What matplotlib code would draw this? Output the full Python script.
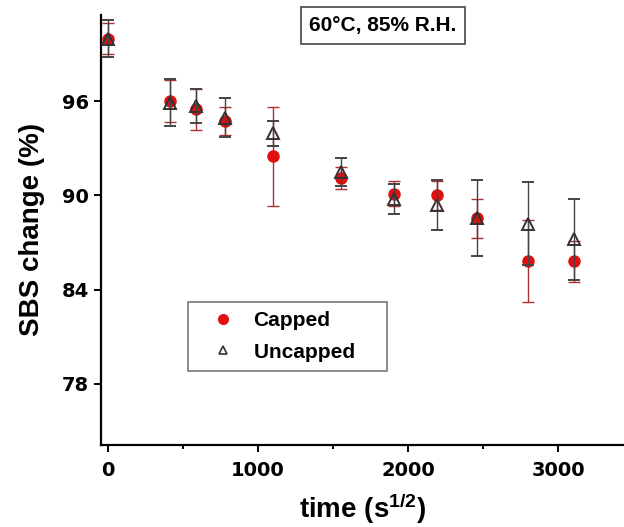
import numpy as np
import matplotlib
matplotlib.use("Agg")
import matplotlib.pyplot as plt
from matplotlib.lines import Line2D

plt.rcParams['font.family'] = ['Liberation Sans', 'DejaVu Sans']
plt.rcParams['font.weight'] = 'bold'
plt.rcParams['mathtext.fontset'] = 'custom'
plt.rcParams['mathtext.rm'] = 'Liberation Sans:bold'
plt.rcParams['mathtext.bf'] = 'Liberation Sans:bold'
plt.rcParams['mathtext.default'] = 'bf'

# time in s^1/2
time_capped = [0, 413, 589, 782, 1100, 1551, 1909, 2195, 2458, 2800, 3105]
sbs_capped = [100.0, 96.0, 95.5, 94.75, 92.5, 91.1, 90.1, 90.0, 88.55, 85.8, 85.8]
err_capped = [1.0, 1.35, 1.3, 0.9, 3.15, 0.7, 0.8, 0.9, 1.25, 2.6, 1.3]

time_uncapped = [0, 413, 589, 782, 1100, 1551, 1909, 2195, 2458, 2800, 3105]
sbs_uncapped = [100.0, 95.9, 95.7, 94.95, 93.95, 91.5, 89.75, 89.4, 88.55, 88.2, 87.2]
err_uncapped = [1.2, 1.5, 1.1, 1.25, 0.8, 0.9, 0.95, 1.6, 2.4, 2.65, 2.6]

fig = plt.figure(figsize=(6.24, 5.27), dpi=100)
ax = fig.add_axes([0.162, 0.156, 0.838, 0.8155])

ax.errorbar(time_capped, sbs_capped, yerr=err_capped, fmt='o', color='#e01010',
            markersize=8, ecolor='#b03030', elinewidth=1.0, capsize=4, capthick=1.0,
            zorder=2)
ax.errorbar(time_uncapped, sbs_uncapped, yerr=err_uncapped, fmt='^', color='#333333',
            markerfacecolor='none', markeredgewidth=1.4, markersize=9,
            ecolor='#444444', elinewidth=1.0, capsize=4, capthick=1.0, zorder=3)

ax.set_xlim(-47, 3440)
ax.set_ylim(74.1, 101.5)
ax.set_xticks([0, 1000, 2000, 3000])
ax.set_xticks([500, 1500, 2500], minor=True)
ax.set_yticks([78, 84, 90, 96])

for s in ['top', 'right']:
    ax.spines[s].set_visible(False)
for s in ['left', 'bottom']:
    ax.spines[s].set_linewidth(1.6)

ax.tick_params(axis='both', which='major', direction='out', length=5, width=1.4)
ax.tick_params(axis='x', which='major', pad=7)
ax.tick_params(axis='x', which='minor', direction='out', length=3, width=1.4)
for lab in ax.get_xticklabels() + ax.get_yticklabels():
    lab.set_fontfamily('DejaVu Sans')
    lab.set_fontweight('bold')
    lab.set_fontsize(14)

ax.set_xlabel('time (s$^{1/2}$)', fontsize=20, fontweight='bold', labelpad=8)
ax.set_ylabel('SBS change (%)', fontsize=20, fontweight='bold', labelpad=12)

ax.text(0.539, 0.9756, '60°C, 85% R.H.', transform=ax.transAxes, ha='center', va='center',
        fontsize=15, fontweight='bold',
        bbox=dict(boxstyle='square,pad=0.42', facecolor='white', edgecolor='#555555',
                  linewidth=1.3))

handles = [
    Line2D([], [], linestyle='none', marker='o', color='#e01010', markersize=7),
    Line2D([], [], linestyle='none', marker='^', color='#333333',
           markerfacecolor='none', markersize=6, markeredgewidth=1.2),
]
leg = ax.legend(handles, ['Capped', 'Uncapped    '], loc='upper left',
                bbox_to_anchor=(0.166, 0.3326), borderaxespad=0, fontsize=15,
                frameon=True, fancybox=False, edgecolor='#555555',
                handletextpad=0.2, handlelength=2.5, borderpad=0.45,
                labelspacing=0.59)
leg.get_frame().set_linewidth(1.2)
for t in leg.get_texts():
    t.set_fontweight('bold')

fig.savefig('out.png', dpi=100)
